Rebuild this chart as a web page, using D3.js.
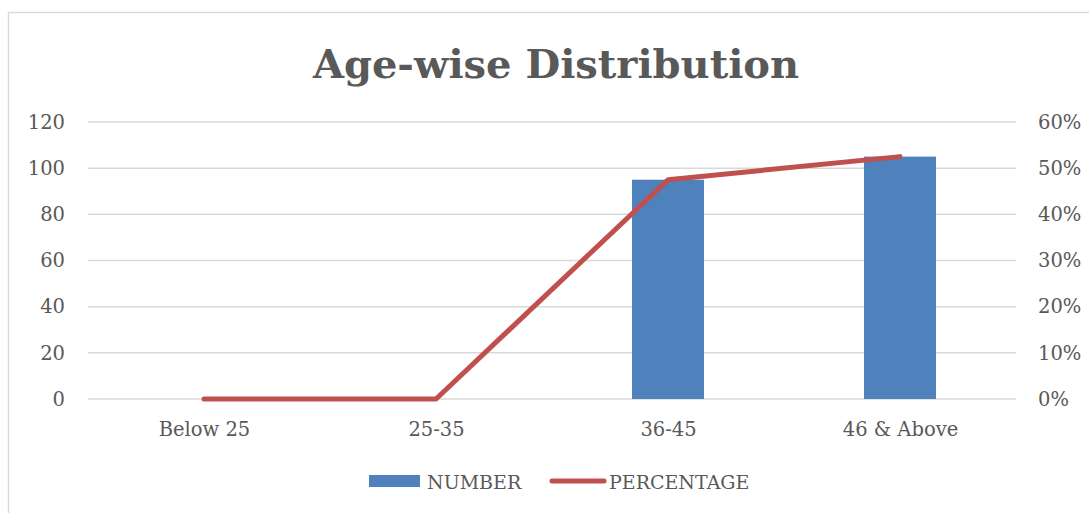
<!DOCTYPE html>
<html><head><meta charset="utf-8">
<script src="https://cdn.jsdelivr.net/npm/d3@7"></script>
<style>body{margin:0;background:#fff;}svg{display:block;}</style>
</head><body>
<svg id="c" width="1089" height="513"></svg>
<script>
const categories = ["Below 25", "25-35", "36-45", "46 & Above"];
const numberValues = [0, 0, 95, 105];
const percentValues = [0, 0, 0.475, 0.525];
const leftTicks = [0, 20, 40, 60, 80, 100, 120];
const rightTicks = [0, 0.1, 0.2, 0.3, 0.4, 0.5, 0.6];
const title = "Age-wise Distribution";
const seriesNames = ["NUMBER", "PERCENTAGE"];

const svg = d3.select("#c");
const font = "'DejaVu Serif', serif";
const textColor = "#595959";
const m = {left: 88, right: 1016, top: 122, bottom: 399};

svg.append("rect").attr("x", 8.5).attr("y", 12.5).attr("width", 1200).attr("height", 600)
  .attr("fill", "#fff").attr("stroke", "#d9d9d9").attr("stroke-width", 1.5);

const xc = d3.scalePoint().domain(categories).range([m.left, m.right]).padding(0.5);
const yL = d3.scaleLinear().domain([0, 120]).range([m.bottom, m.top]);
const yR = d3.scaleLinear().domain([0, 0.6]).range([m.bottom, m.top]);

// gridlines
svg.append("g").selectAll("line").data(leftTicks).join("line")
  .attr("x1", m.left).attr("x2", m.right)
  .attr("y1", d => yL(d)).attr("y2", d => yL(d))
  .attr("stroke", "#d9d9d9").attr("stroke-width", 1.5);

// left axis
const la = svg.append("g").attr("transform", `translate(${m.left},0)`)
  .call(d3.axisLeft(yL).tickValues(leftTicks).tickSize(0).tickPadding(23));
la.select(".domain").remove();
la.selectAll("text").attr("font-family", font).attr("font-size", 19.5).attr("fill", textColor);

// right axis
const ra = svg.append("g").attr("transform", `translate(${m.right},0)`)
  .call(d3.axisRight(yR).tickValues(rightTicks).tickFormat(d3.format(".0%")).tickSize(0).tickPadding(22));
ra.select(".domain").remove();
ra.selectAll("text").attr("font-family", font).attr("font-size", 19.5).attr("fill", textColor);

// bottom axis
const ba = svg.append("g").attr("transform", `translate(0,${m.bottom})`)
  .call(d3.axisBottom(xc).tickSize(0).tickPadding(23));
ba.select(".domain").remove();
ba.selectAll("text").attr("font-family", font).attr("font-size", 19.5).attr("fill", textColor);

// bars
const bw = 72;
svg.append("g").selectAll("rect").data(numberValues).join("rect")
  .attr("x", (d, i) => xc(categories[i]) - bw / 2)
  .attr("width", bw)
  .attr("y", d => yL(d))
  .attr("height", d => yL(0) - yL(d))
  .attr("fill", "#4f81bd");

// line
const line = d3.line().x((d, i) => xc(categories[i])).y(d => yR(d));
svg.append("path").datum(percentValues).attr("d", line)
  .attr("fill", "none").attr("stroke", "#c0504d").attr("stroke-width", 5)
  .attr("stroke-linecap", "round").attr("stroke-linejoin", "round");

// title
svg.append("text").attr("x", 556).attr("y", 78).attr("text-anchor", "middle")
  .attr("font-family", font).attr("font-weight", "bold").attr("font-size", 40)
  .attr("fill", textColor).text(title);

// legend
const lg = svg.append("g");
lg.append("rect").attr("x", 369).attr("y", 475).attr("width", 51).attr("height", 12).attr("fill", "#4f81bd");
lg.append("text").attr("x", 427).attr("y", 489).attr("font-family", font).attr("font-size", 19)
  .attr("fill", textColor).text(seriesNames[0]);
lg.append("line").attr("x1", 552).attr("x2", 604).attr("y1", 481).attr("y2", 481)
  .attr("stroke", "#c0504d").attr("stroke-width", 5).attr("stroke-linecap", "round");
lg.append("text").attr("x", 609).attr("y", 489).attr("font-family", font).attr("font-size", 19)
  .attr("fill", textColor).text(seriesNames[1]);
</script>
</body></html>
